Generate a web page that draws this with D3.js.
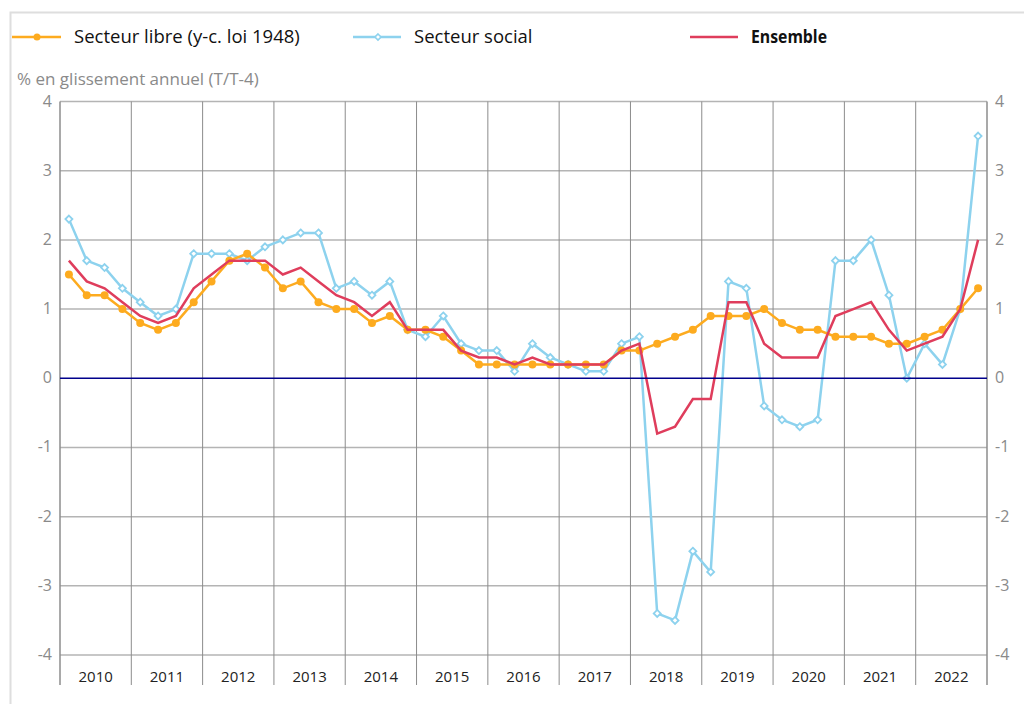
<!DOCTYPE html>
<html lang="fr">
<head>
<meta charset="UTF-8" />
<title>Loyers - glissement annuel</title>
<script src="https://d3js.org/d3.v7.min.js"></script>
<style>
    body {
        margin: 0;
        background: #fff;
        font-family: "Open Sans", Arial, sans-serif;
    }
    .grid-h line { stroke: #b4b4b4; stroke-width: 1.5; }
    .grid-v line { stroke: #8c8c8c; stroke-width: 1; }
    .tick-label { fill: #8a8a8a; font-size: 16px; }
    .year-label { fill: #222; font-size: 15px; }
</style>
</head>
<body>
<svg id="chart" width="1024" height="704"></svg>
<script>
    // trimestres 2010T1 .. 2022T4
    const years = ["2010", "2011", "2012", "2013", "2014", "2015", "2016",
        "2017", "2018", "2019", "2020", "2021", "2022"];

    const libre = [1.5, 1.2, 1.2, 1.0, 0.8, 0.7, 0.8, 1.1, 1.4, 1.7, 1.8, 1.6,
        1.3, 1.4, 1.1, 1.0, 1.0, 0.8, 0.9, 0.7, 0.7, 0.6, 0.4, 0.2,
        0.2, 0.2, 0.2, 0.2, 0.2, 0.2, 0.2, 0.4, 0.4, 0.5, 0.6, 0.7,
        0.9, 0.9, 0.9, 1.0, 0.8, 0.7, 0.7, 0.6, 0.6, 0.6, 0.5, 0.5,
        0.6, 0.7, 1.0, 1.3];

    const social = [2.3, 1.7, 1.6, 1.3, 1.1, 0.9, 1.0, 1.8, 1.8, 1.8, 1.7, 1.9,
        2.0, 2.1, 2.1, 1.3, 1.4, 1.2, 1.4, 0.7, 0.6, 0.9, 0.5, 0.4,
        0.4, 0.1, 0.5, 0.3, 0.2, 0.1, 0.1, 0.5, 0.6, -3.4, -3.5, -2.5,
        -2.8, 1.4, 1.3, -0.4, -0.6, -0.7, -0.6, 1.7, 1.7, 2.0, 1.2, 0.0,
        0.5, 0.2, 1.0, 3.5];

    const ensemble = [1.7, 1.4, 1.3, 1.1, 0.9, 0.8, 0.9, 1.3, 1.5, 1.7, 1.7, 1.7,
        1.5, 1.6, 1.4, 1.2, 1.1, 0.9, 1.1, 0.7, 0.7, 0.7, 0.4, 0.3,
        0.3, 0.2, 0.3, 0.2, 0.2, 0.2, 0.2, 0.4, 0.5, -0.8, -0.7, -0.3,
        -0.3, 1.1, 1.1, 0.5, 0.3, 0.3, 0.3, 0.9, 1.0, 1.1, 0.7, 0.4,
        0.5, 0.6, 1.0, 2.0];

    const yTicks = [-4, -3, -2, -1, 0, 1, 2, 3, 4];

    const colLibre = "#fdab1f";
    const colSocial = "#8dd2ee";
    const colEnsemble = "#df3d5c";

    const svg = d3.select("#chart");

    const plotLeft = 60, plotRight = 987, plotTop = 101.5, plotBottom = 655;

    const quarters = d3.range(years.length * 4);

    const xYear = d3.scaleBand().domain(years).range([plotLeft, plotRight]);
    const x = d3.scaleBand().domain(quarters).range([plotLeft, plotRight]);
    const y = d3.scaleLinear().domain([-4, 4]).range([plotBottom, plotTop]);

    const qx = i => x(i) + x.bandwidth() / 2;

    // cadre
    svg.append("path")
        .attr("d", "M10.5,704 V12.5 H1024")
        .attr("fill", "none")
        .attr("stroke", "#dedede")
        .attr("stroke-width", 2);

    // grille horizontale
    svg.append("g").attr("class", "grid-h")
        .selectAll("line")
        .data(yTicks.filter(d => d !== 0))
        .join("line")
        .attr("x1", plotLeft).attr("x2", plotRight)
        .attr("y1", d => y(d)).attr("y2", d => y(d));

    // grille verticale (séparateurs d'années, descendent sous l'axe)
    svg.append("g").attr("class", "grid-v")
        .selectAll("line")
        .data(years.slice(1))
        .join("line")
        .attr("x1", d => xYear(d)).attr("x2", d => xYear(d))
        .attr("y1", plotTop).attr("y2", plotBottom + 30);

    // axes verticaux
    svg.append("g")
        .selectAll("line")
        .data([plotLeft, plotRight])
        .join("line")
        .attr("x1", d => d).attr("x2", d => d)
        .attr("y1", plotTop).attr("y2", plotBottom + 30)
        .attr("stroke", "#8c8c8c")
        .attr("stroke-width", 1.5);

    // graduations
    svg.append("g")
        .selectAll("text")
        .data(yTicks)
        .join("text")
        .attr("class", "tick-label")
        .attr("x", plotLeft - 8)
        .attr("y", d => y(d) + 5)
        .attr("text-anchor", "end")
        .text(d => d);

    svg.append("g")
        .selectAll("text")
        .data(yTicks)
        .join("text")
        .attr("class", "tick-label")
        .attr("x", plotRight + 8)
        .attr("y", d => y(d) + 5)
        .text(d => d);

    // années
    svg.append("g")
        .selectAll("text")
        .data(years)
        .join("text")
        .attr("class", "year-label")
        .attr("x", d => xYear(d) + xYear.bandwidth() / 2)
        .attr("y", plotBottom + 27)
        .attr("text-anchor", "middle")
        .text(d => d);

    // titre de l'axe
    svg.append("text")
        .attr("x", 17)
        .attr("y", 85)
        .attr("fill", "#8a8a8a")
        .attr("font-size", "17px")
        .text("% en glissement annuel (T/T-4)");

    const line = d3.line()
        .x((d, i) => qx(i))
        .y(d => y(d));

    // séries
    svg.append("path")
        .datum(social)
        .attr("d", line)
        .attr("fill", "none")
        .attr("stroke", colSocial)
        .attr("stroke-width", 2.5);

    svg.append("g")
        .selectAll("path")
        .data(social)
        .join("path")
        .attr("d", "M0,-3.5 L3.5,0 L0,3.5 L-3.5,0 Z")
        .attr("transform", (d, i) => `translate(${qx(i)},${y(d)})`)
        .attr("fill", "#fff")
        .attr("stroke", colSocial)
        .attr("stroke-width", 1.8);

    svg.append("path")
        .datum(libre)
        .attr("d", line)
        .attr("fill", "none")
        .attr("stroke", colLibre)
        .attr("stroke-width", 2.5);

    svg.append("g")
        .selectAll("circle")
        .data(libre)
        .join("circle")
        .attr("cx", (d, i) => qx(i))
        .attr("cy", d => y(d))
        .attr("r", 4)
        .attr("fill", colLibre);

    svg.append("path")
        .datum(ensemble)
        .attr("d", line)
        .attr("fill", "none")
        .attr("stroke", colEnsemble)
        .attr("stroke-width", 2.5);

    // ligne du zéro
    svg.append("line")
        .attr("x1", plotLeft).attr("x2", plotRight)
        .attr("y1", y(0)).attr("y2", y(0))
        .attr("stroke", "#00008b")
        .attr("stroke-width", 1.5);

    // légende
    const legY = 37;
    const leg = svg.append("g");

    leg.append("line").attr("x1", 12).attr("x2", 61).attr("y1", legY).attr("y2", legY)
        .attr("stroke", colLibre).attr("stroke-width", 2.5);
    leg.append("circle").attr("cx", 37).attr("cy", legY).attr("r", 3.5).attr("fill", colLibre);
    leg.append("text").attr("x", 74).attr("y", legY + 6).attr("font-size", "18.5px").attr("fill", "#111")
        .text("Secteur libre (y-c. loi 1948)");

    leg.append("line").attr("x1", 353).attr("x2", 401).attr("y1", legY).attr("y2", legY)
        .attr("stroke", colSocial).attr("stroke-width", 2.5);
    leg.append("path").attr("d", "M0,-3 L3,0 L0,3 L-3,0 Z")
        .attr("transform", `translate(378,${legY})`)
        .attr("fill", "#fff").attr("stroke", colSocial).attr("stroke-width", 1.6);
    leg.append("text").attr("x", 414).attr("y", legY + 6).attr("font-size", "18.5px").attr("fill", "#111")
        .text("Secteur social");

    leg.append("line").attr("x1", 690).attr("x2", 738).attr("y1", legY).attr("y2", legY)
        .attr("stroke", colEnsemble).attr("stroke-width", 2.5);
    leg.append("text").attr("x", 751).attr("y", legY + 6).attr("font-size", "18px")
        .attr("font-weight", "bold").attr("fill", "#111")
        .attr("textLength", 76).attr("lengthAdjust", "spacingAndGlyphs")
        .text("Ensemble");
</script>
</body>
</html>
